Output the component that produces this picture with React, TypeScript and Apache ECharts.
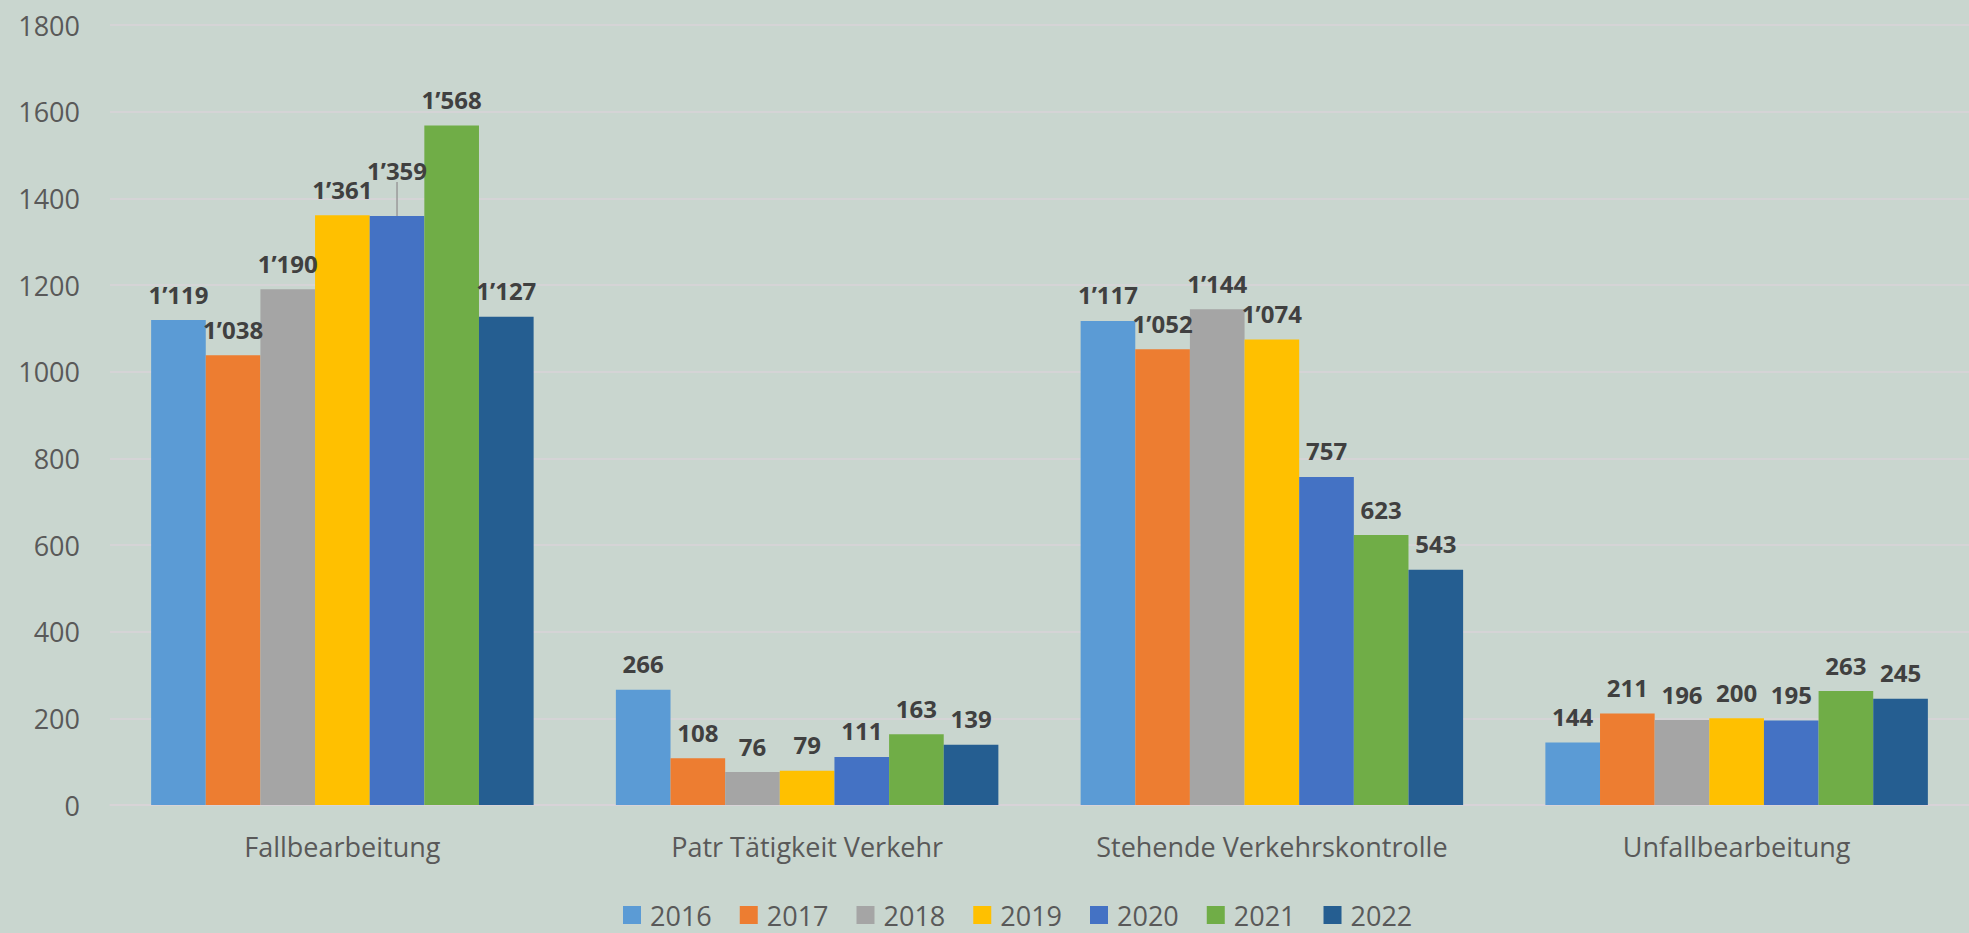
import React, { useEffect, useRef } from "react";
import * as echarts from "echarts";

const categories = [
  "Fallbearbeitung",
  "Patr Tätigkeit Verkehr",
  "Stehende Verkehrskontrolle",
  "Unfallbearbeitung",
];
const years = ["2016", "2017", "2018", "2019", "2020", "2021", "2022"];
const values2016 = [1119, 266, 1117, 144];
const values2017 = [1038, 108, 1052, 211];
const values2018 = [1190, 76, 1144, 196];
const values2019 = [1361, 79, 1074, 200];
const values2020 = [1359, 111, 757, 195];
const values2021 = [1568, 163, 623, 263];
const values2022 = [1127, 139, 543, 245];
const seriesValues = [values2016, values2017, values2018, values2019, values2020, values2021, values2022];
const colors = ["#5B9BD5", "#ED7D31", "#A5A5A5", "#FFC000", "#4472C4", "#70AD47", "#255E91"];
const yTicks = [0, 200, 400, 600, 800, 1000, 1200, 1400, 1600, 1800];

const fmt = (n: number) => {
  if (n >= 1000) {
    const th = Math.floor(n / 1000);
    const rest = String(n % 1000).padStart(3, "0");
    return th + "\u2019" + rest;
  }
  return String(n);
};

export default function App() {
  const ref = useRef<HTMLDivElement>(null);
  useEffect(() => {
    if (!ref.current) return;
    const chart = echarts.init(ref.current, null, { renderer: "svg" });
    const font = "'Open Sans', 'Noto Sans', sans-serif";
    chart.setOption({
      animation: false,
      backgroundColor: "#c9d6cf",
      textStyle: { fontFamily: font },
      legend: {
        left: 618,
        top: 895,
        itemWidth: 18,
        itemHeight: 18,
        itemGap: 28,
        icon: "rect",
        textStyle: {
          fontSize: 27,
          lineHeight: 30,
          color: "#595959",
          fontFamily: font,
          padding: [0, 0, 0, 4],
        },
        data: years,
      },
      grid: { left: 110, right: -16, top: 25, bottom: 128, containLabel: false },
      xAxis: {
        type: "category",
        data: categories,
        axisTick: { show: false },
        axisLine: { lineStyle: { color: "#d9d3d8", width: 1.5 } },
        axisLabel: { fontSize: 27, color: "#595959", margin: 28, fontFamily: font },
      },
      yAxis: {
        type: "value",
        min: yTicks[0],
        max: yTicks[yTicks.length - 1],
        interval: 200,
        axisLine: { show: false },
        axisTick: { show: false },
        splitLine: { lineStyle: { color: "#d9d3d8", width: 1.5 } },
        axisLabel: {
          fontSize: 27,
          color: "#595959",
          margin: 30,
          fontFamily: font,
          formatter: (v: number) => String(v),
        },
      },
      series: years.map((y, i) => ({
        name: y,
        type: "bar",
        data:
          y === "2020"
            ? seriesValues[i].map((v, j) => ({
                value: v,
                labelLine: { show: j === 0, lineStyle: { color: "#9a9a9a", width: 1.5 } },
              }))
            : seriesValues[i],
        barGap: "0%",
        barCategoryGap: "17.7%",
        itemStyle: { color: colors[i] },
        label: {
          show: true,
          position: "top",
          distance: 14,
          fontSize: 24,
          fontWeight: "bold",
          color: "#404040",
          fontFamily: font,
          formatter: (p: any) => fmt(p.value),
        },
        ...(y === "2020"
          ? {
              labelLayout: (p: any) => (p.dataIndex === 0 ? { dy: -20 } : {}),
              labelLine: { show: false },
            }
          : {}),
      })),
    });
    return () => chart.dispose();
  }, []);
  return (
    <div
      ref={ref}
      style={{ position: "fixed", left: 0, top: 0, width: 1969, height: 933 }}
    />
  );
}
